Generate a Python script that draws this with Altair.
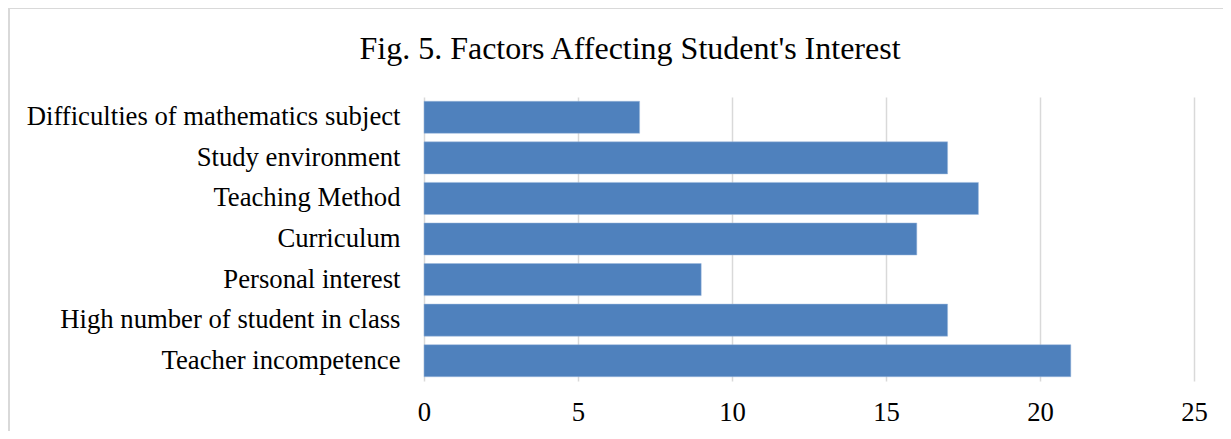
import altair as alt
import pandas as pd

categories = [
    "Difficulties of mathematics subject",
    "Study environment",
    "Teaching Method",
    "Curriculum",
    "Personal interest",
    "High number of student in class",
    "Teacher incompetence",
]
values = [7, 17, 18, 16, 9, 17, 21]
x_ticks = [0, 5, 10, 15, 20, 25]
title_text = ["Fig. 5. Factors Affecting Student's Interest"]

df = pd.DataFrame({"factor": categories, "count": values})
tdf = pd.DataFrame({"t": title_text})
FONT = "Liberation Serif"

bars = alt.Chart(df).mark_bar(color="#4F81BD", stroke="#9DB8DC", strokeWidth=0.5).encode(
    x=alt.X("count:Q",
            scale=alt.Scale(domain=[0, 25], nice=False),
            axis=alt.Axis(values=x_ticks, title=None, domain=False, ticks=False,
                          grid=True, gridColor="#D9D9D9", gridWidth=1.5,
                          labelFont=FONT, labelFontSize=26.7, labelColor="#000000",
                          labelPadding=18, labelFlush=False)),
    y=alt.Y("factor:N", sort=categories,
            scale=alt.Scale(paddingInner=0.21, paddingOuter=0.105),
            axis=alt.Axis(title=None, domain=False, ticks=False, grid=False,
                          labelFont=FONT, labelFontSize=26.7, labelColor="#000000",
                          labelPadding=24, labelLimit=600)),
)

title = alt.Chart(tdf).mark_text(font=FONT, fontSize=32, color="#000000",
                                 align="center", baseline="alphabetic").encode(
    text="t:N", x=alt.value(206), y=alt.value(-38)
)

frame_top = alt.Chart(df).mark_rule(color="#D9D9D9", strokeWidth=2).encode(
    x=alt.value(-416), x2=alt.value(830), y=alt.value(-89)
)
frame_left = alt.Chart(df).mark_rule(color="#D9D9D9", strokeWidth=2).encode(
    x=alt.value(-415), y=alt.value(-89), y2=alt.value(400)
)

chart = alt.layer(bars, title, frame_top, frame_left).properties(
    width=770,
    height=284,
    autosize=alt.AutoSizeParams(type="none"),
    padding={"left": 416, "top": 89, "right": 29, "bottom": 50},
).configure_view(stroke=None)

chart.save("out.html", embed_options={"renderer": "svg", "actions": False})
